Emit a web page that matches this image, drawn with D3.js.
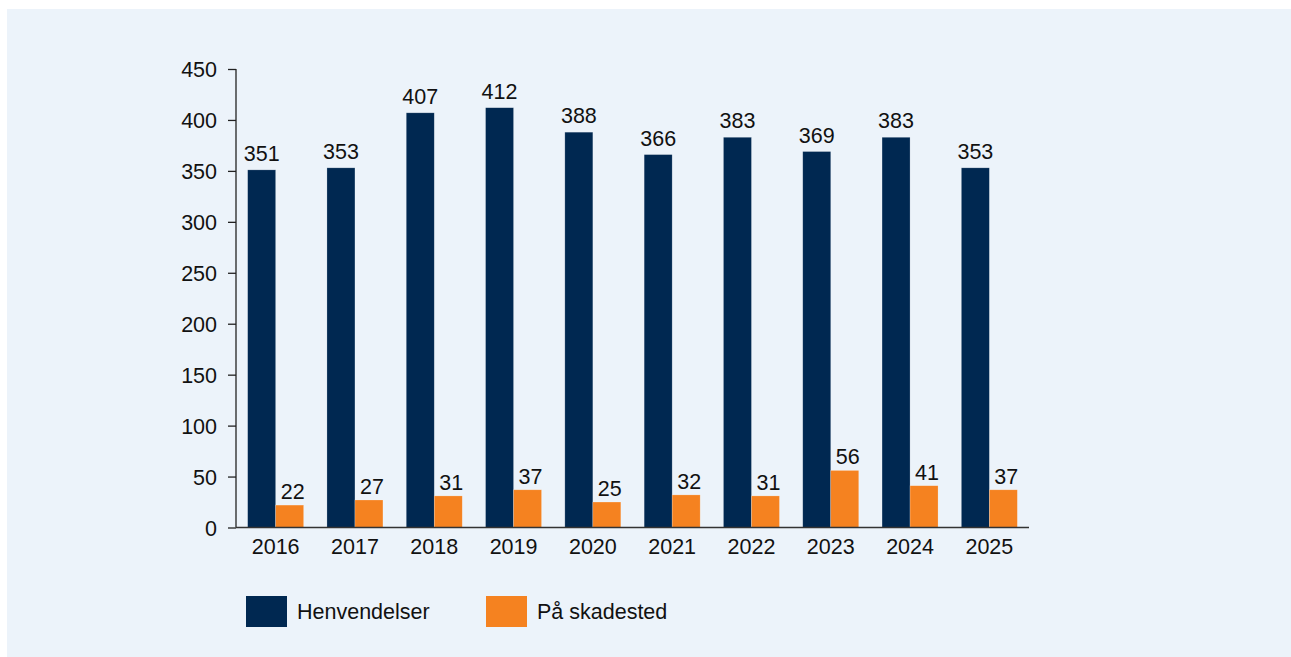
<!DOCTYPE html>
<html lang="no">
<head>
<meta charset="UTF-8">
<script src="https://d3js.org/d3.v7.min.js"></script>
<title>Henvendelser</title>
<style>
  body { margin: 0; background: #fff; }
  text { font-family: "Liberation Sans", Arial, sans-serif; fill: #111; }
</style>
</head>
<body>
<script>
// data
var years = ["2016", "2017", "2018", "2019", "2020", "2021", "2022", "2023", "2024", "2025"];
var henvendelser = [351, 353, 407, 412, 388, 366, 383, 369, 383, 353];
var paaSkadested = [22, 27, 31, 37, 25, 32, 31, 56, 41, 37];
var seriesNames = ["Henvendelser", "På skadested"];
var seriesColors = ["#002851", "#f58220"];
var yTicks = [0, 50, 100, 150, 200, 250, 300, 350, 400, 450];

var W = 1291, H = 657;
var plotLeft = 236, plotRight = 1029, plotTop = 69, plotBottom = 527.5;
var fs = "21.5px";

var svg = d3.select("body").append("svg").attr("width", W).attr("height", H);

svg.append("rect").attr("x", 7).attr("y", 9).attr("width", W - 7).attr("height", H - 9)
  .attr("fill", "#ecf3fa");

var x = d3.scaleBand().domain(years).range([plotLeft, plotRight]).paddingInner(0.294).paddingOuter(0.147);
var x1 = d3.scaleBand().domain([0, 1]).range([0, x.bandwidth()]);
var y = d3.scaleLinear().domain([0, 450]).range([plotBottom, plotTop]);

var rows = years.map(function (yr, i) {
  return { year: yr, vals: [henvendelser[i], paaSkadested[i]] };
});

var g = svg.selectAll("g.year").data(rows).enter().append("g")
  .attr("class", "year")
  .attr("transform", function (d) { return "translate(" + x(d.year) + ",0)"; });

g.selectAll("rect").data(function (d) { return d.vals; }).enter().append("rect")
  .attr("x", function (d, i) { return x1(i); })
  .attr("y", function (d) { return y(d); })
  .attr("width", x1.bandwidth())
  .attr("height", function (d) { return y(0) - y(d); })
  .attr("fill", function (d, i) { return seriesColors[i]; })
  .attr("stroke", "#fff").attr("stroke-opacity", 0.35).attr("stroke-width", 0.6);

g.selectAll("text.val").data(function (d) { return d.vals; }).enter().append("text")
  .attr("class", "val")
  .attr("x", function (d, i) { return x1(i) + x1.bandwidth() / 2 + (i === 1 ? 3 : 0); })
  .attr("y", function (d, i) { return y(d) - (i === 0 ? 9 : 6); })
  .attr("text-anchor", "middle")
  .style("font-size", fs)
  .text(function (d) { return d; });

// y axis
var yAxis = svg.append("g").attr("transform", "translate(" + plotLeft + ",0)")
  .call(d3.axisLeft(y).tickValues(yTicks).tickSize(8).tickPadding(11));
yAxis.selectAll("text").style("font-size", fs).attr("fill", "#111").attr("dy", "0.35em");
yAxis.selectAll("line").attr("stroke", "#222").attr("stroke-width", 1.3);
yAxis.select(".domain").attr("d", "M0," + plotTop + "V" + plotBottom).attr("stroke", "#222").attr("stroke-width", 1.3);

// x axis
var xAxis = svg.append("g").attr("transform", "translate(0," + plotBottom + ")")
  .call(d3.axisBottom(x).tickSize(0).tickPadding(11));
xAxis.selectAll("text").style("font-size", fs).attr("fill", "#111").attr("dy", "0.71em");
xAxis.select(".domain").attr("d", "M" + plotLeft + ",0H" + plotRight).attr("stroke", "#333").attr("stroke-width", 1.6);

// legend
var legX = [246, 486];
var leg = svg.selectAll("g.leg").data(seriesNames).enter().append("g")
  .attr("class", "leg")
  .attr("transform", function (d, i) { return "translate(" + legX[i] + ",596)"; });
leg.append("rect").attr("width", 41).attr("height", 31)
  .attr("fill", function (d, i) { return seriesColors[i]; });
leg.append("text").attr("x", 51).attr("y", 23).style("font-size", fs)
  .text(function (d) { return d; });
</script>
</body>
</html>
